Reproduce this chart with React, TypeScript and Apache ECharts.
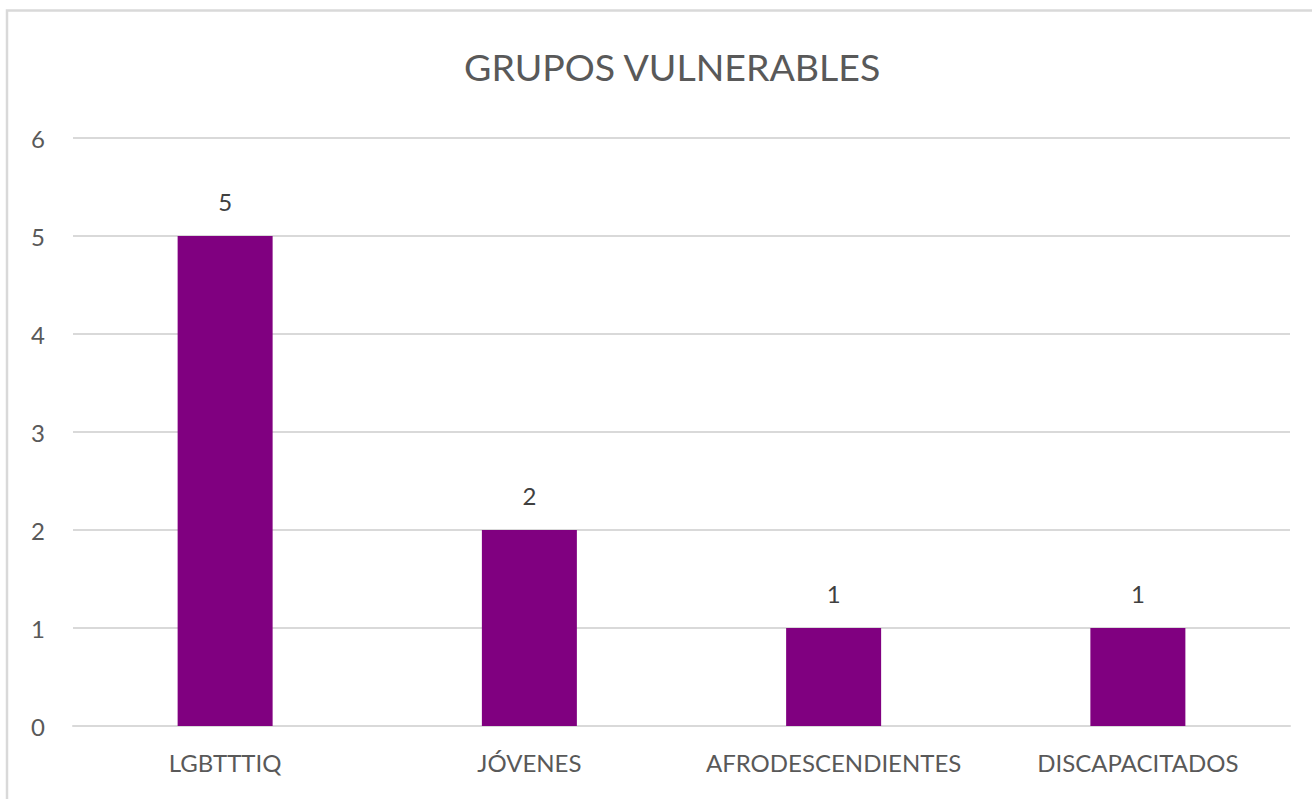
import React, { useEffect, useRef } from "react";
import * as echarts from "echarts";

const categories = ["LGBTTTIQ", "JÓVENES", "AFRODESCENDIENTES", "DISCAPACITADOS"];
const values = [5, 2, 1, 1];
const chartTitle = "GRUPOS VULNERABLES";

export default function App() {
  const ref = useRef<HTMLDivElement>(null);
  useEffect(() => {
    if (!ref.current) return;
    const chart = echarts.init(ref.current, null, { renderer: "svg" });
    const font = "Lato, 'Open Sans', sans-serif";
    chart.setOption({
      animation: false,
      backgroundColor: "#ffffff",
      title: {
        text: chartTitle,
        left: 459,
        top: 42,
        textStyle: { color: "#595959", fontSize: 37.5, fontWeight: "normal", fontFamily: font },
      },
      graphic: [
        {
          type: "rect",
          shape: { x: 7, y: 10.5, width: 1340, height: 820 },
          style: { fill: "none", stroke: "#d9d9d9", lineWidth: 2.5 },
          silent: true,
        },
      ],
      grid: { left: 73, right: 22, top: 138, bottom: 73, containLabel: false },
      xAxis: {
        type: "category",
        data: categories,
        axisLine: { show: true, lineStyle: { color: "#d9d9d9", width: 2 } },
        axisTick: { show: false },
        axisLabel: { color: "#595959", fontSize: 24, fontFamily: font, margin: 24, interval: 0 },
      },
      yAxis: {
        type: "value",
        min: 0,
        max: 6,
        interval: 1,
        axisLine: { show: false },
        axisTick: { show: false },
        axisLabel: { color: "#595959", fontSize: 24, fontFamily: font, margin: 28 },
        splitLine: { lineStyle: { color: "#d9d9d9", width: 2 } },
      },
      series: [
        {
          type: "bar",
          data: values,
          barWidth: 95,
          itemStyle: { color: "#800080" },
          label: {
            show: true,
            position: "top",
            distance: 23,
            color: "#404040",
            fontSize: 24,
            fontFamily: font,
          },
        },
      ],
    });
    return () => chart.dispose();
  }, []);
  return (
    <div
      ref={ref}
      style={{ position: "fixed", left: 0, top: 0, width: 1312, height: 799 }}
    />
  );
}
